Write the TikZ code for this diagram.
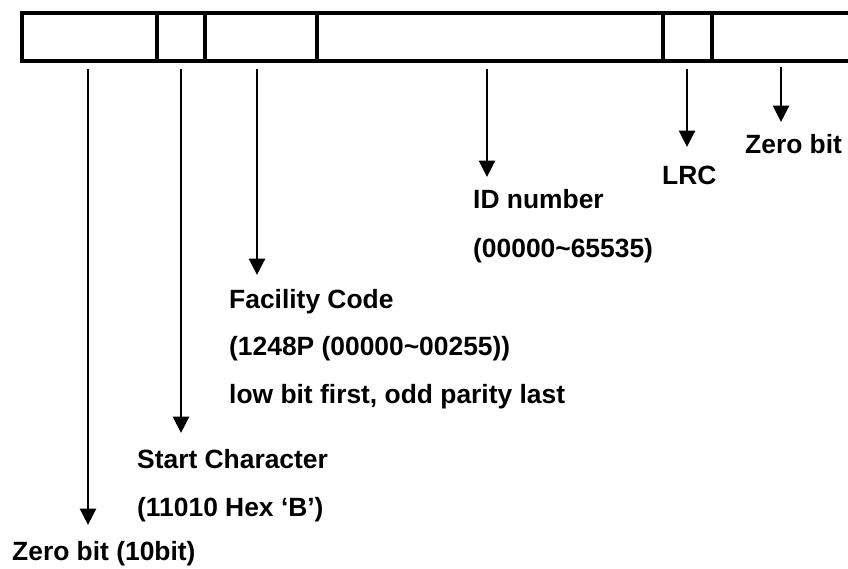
\documentclass[tikz,border=0pt]{standalone}
\usepackage{fontspec}
\setmainfont{Liberation Sans}
\usetikzlibrary{arrows.meta}
\begin{document}
\begin{tikzpicture}[x=1pt,y=-1pt,
  frame/.style={line width=4pt},
  pointer/.style={line width=2.8pt,-{Triangle[width=16pt,length=16.5pt]}},
  lbl/.style={anchor=base west,inner sep=0pt,font=\fontsize{26.4}{30}\selectfont\bfseries}]
  \useasboundingbox (0,0) rectangle (848,568);

  % frame of the bit record (open at the right)
  \draw[frame] (860,13) -- (22,13) -- (22,61) -- (860,61);
  \foreach \x in {157,205,317,663,712}
    \draw[frame] (\x,13) -- (\x,61);

  % pointer start and end points
  \coordinate (s1) at (88,69);   \coordinate (t1) at (88,525);
  \coordinate (s2) at (181,69);  \coordinate (t2) at (181,433);
  \coordinate (s3) at (257,69);  \coordinate (t3) at (257,275);
  \coordinate (s4) at (487,69);  \coordinate (t4) at (487,177);
  \coordinate (s5) at (687,69);  \coordinate (t5) at (687,147);
  \coordinate (s6) at (781,67);  \coordinate (t6) at (781,122);

  \foreach \i in {1,...,6}
    \draw[pointer] (s\i) -- (t\i);

  % field descriptions
  \node[lbl] (zb)   at (12,560)  {Zero bit (10bit)};
  \node[lbl] (sc)   at (137,468) {Start Character};
  \node[lbl] (sc2)  at (137,516) {(11010 Hex ‘B’)};
  \node[lbl] (fc)   at (229,308) {Facility Code};
  \node[lbl] (fc2)  at (229,355) {(1248P (00000\textasciitilde 00255))};
  \node[lbl] (fc3)  at (229,403) {low bit first, odd parity last};
  \node[lbl] (id)   at (473,208) {ID number};
  \node[lbl] (id2)  at (473,257) {(00000\textasciitilde 65535)};
  \node[lbl] (lrc)  at (662,184) {LRC};
  \node[lbl] (zb2)  at (745,153) {Zero bit};
\end{tikzpicture}
\end{document}
